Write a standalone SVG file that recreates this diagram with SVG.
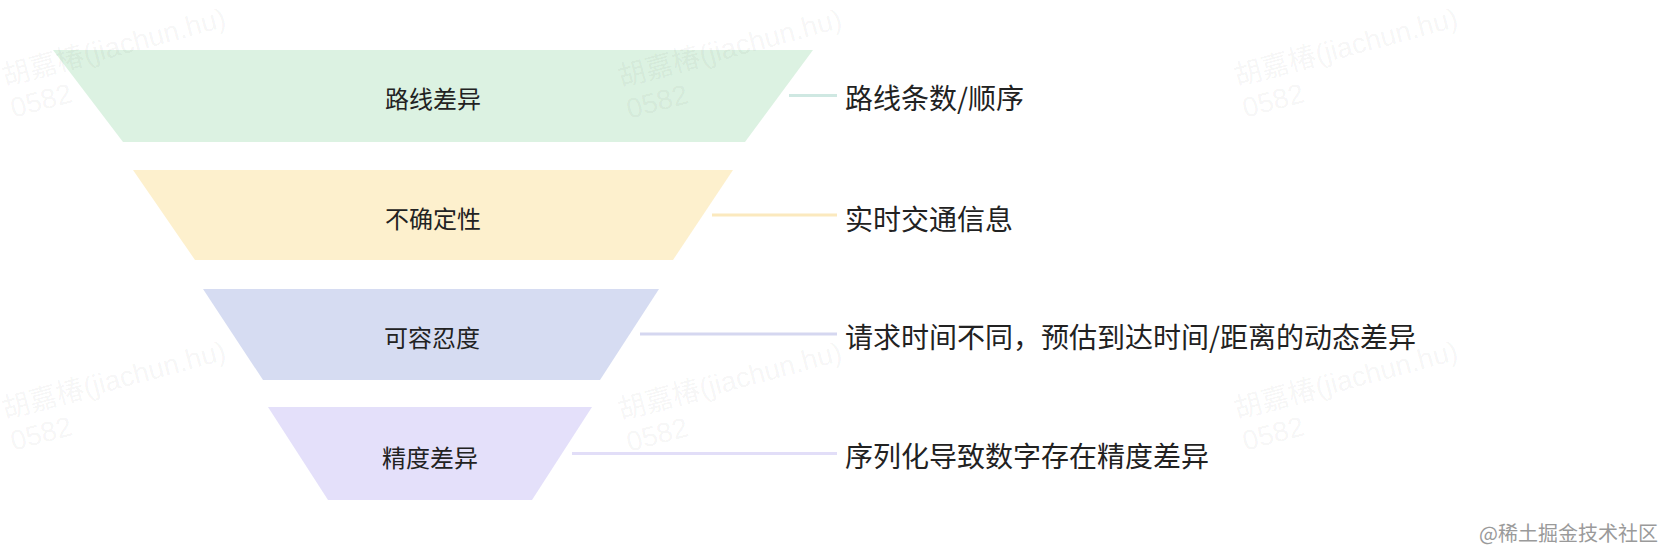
<svg xmlns="http://www.w3.org/2000/svg" width="1664" height="552" viewBox="0 0 1664 552">
  <style>
    .lbl { font-family: "Noto Sans CJK SC", "Noto Sans", sans-serif; font-size: 24px; fill: #222222; text-anchor: middle; dominant-baseline: central; }
    .desc { font-family: "Noto Sans CJK SC", "Noto Sans", sans-serif; font-size: 28px; fill: #222222; dominant-baseline: central; }
    .wm { font-family: "Liberation Sans", "Noto Sans CJK SC", sans-serif; font-size: 28px; fill: #000000; fill-opacity: 0.05; }
    .conn { stroke-width: 3; fill: none; }
    .credit { font-family: "Noto Sans CJK SC", sans-serif; font-size: 20px; fill: #9a9a9a; text-anchor: end; }
  </style>
  <rect width="1664" height="552" fill="#ffffff"/>

  <g id="level-1">
    <polygon points="53,50 813,50 745,142 123,142" fill="#DCF2E2"/>
    <text class="lbl" x="433" y="97">路线差异</text>
  </g>
  <g id="level-2">
    <polygon points="133,170 733,170 673,260 195,260" fill="#FDF0CD"/>
    <text class="lbl" x="433" y="217">不确定性</text>
  </g>
  <g id="level-3">
    <polygon points="203,289 659,289 600,380 263,380" fill="#D6DCF2"/>
    <text class="lbl" x="432" y="336">可容忍度</text>
  </g>
  <g id="level-4">
    <polygon points="268,407 592,407 532,500 328,500" fill="#E4E0FA"/>
    <text class="lbl" x="430" y="456">精度差异</text>
  </g>

  <g id="connectors">
    <line class="conn" x1="789" y1="95.5" x2="837" y2="95.5" stroke="#CFE8E2"/>
    <line class="conn" x1="712" y1="215" x2="837" y2="215" stroke="#FBE9BE"/>
    <line class="conn" x1="640" y1="334" x2="837" y2="334" stroke="#D5D7F0"/>
    <line class="conn" x1="572" y1="453.5" x2="837" y2="453.5" stroke="#E2DEF8"/>
  </g>

  <g id="desc-1"><text class="desc" x="845" y="97">路线条数/顺序</text></g>
  <g id="desc-2"><text class="desc" x="845" y="218">实时交通信息</text></g>
  <g id="desc-3"><text class="desc" x="845" y="336">请求时间不同，预估到达时间/距离的动态差异</text></g>
  <g id="desc-4"><text class="desc" x="845" y="455">序列化导致数字存在精度差异</text></g>

  <g id="watermarks">
    <g transform="translate(5,86) rotate(-15)"><text class="wm" x="0" y="0">胡嘉椿(jiachun.hu)</text><text class="wm" x="0" y="33">0582</text></g>
    <g transform="translate(621,87) rotate(-15)"><text class="wm" x="0" y="0">胡嘉椿(jiachun.hu)</text><text class="wm" x="0" y="33">0582</text></g>
    <g transform="translate(1237,86) rotate(-15)"><text class="wm" x="0" y="0">胡嘉椿(jiachun.hu)</text><text class="wm" x="0" y="33">0582</text></g>
    <g transform="translate(5,419) rotate(-15)"><text class="wm" x="0" y="0">胡嘉椿(jiachun.hu)</text><text class="wm" x="0" y="33">0582</text></g>
    <g transform="translate(621,420) rotate(-15)"><text class="wm" x="0" y="0">胡嘉椿(jiachun.hu)</text><text class="wm" x="0" y="33">0582</text></g>
    <g transform="translate(1237,419) rotate(-15)"><text class="wm" x="0" y="0">胡嘉椿(jiachun.hu)</text><text class="wm" x="0" y="33">0582</text></g>
  </g>

  <text class="credit" x="1658" y="541">@稀土掘金技术社区</text>
</svg>
